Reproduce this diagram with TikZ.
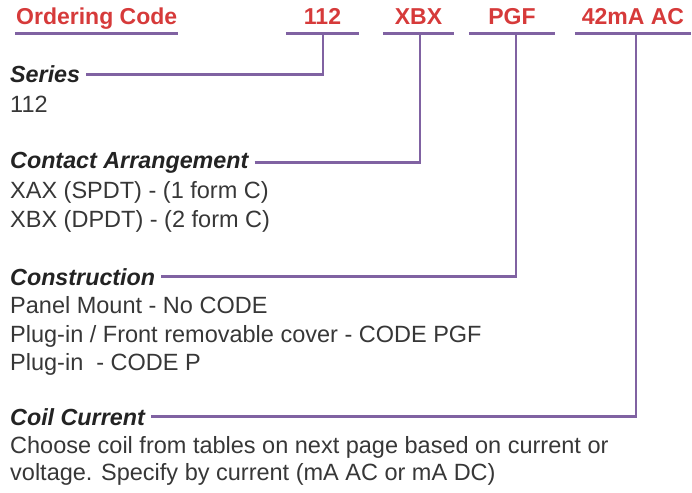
\documentclass[tikz,border=0pt]{standalone}
\usepackage{fontspec}
\setmainfont{Liberation Sans}
\usepackage{xcolor}
\usetikzlibrary{positioning}
\definecolor{codered}{RGB}{214,58,58}
\definecolor{linkpurple}{RGB}{128,98,162}
\definecolor{bodygray}{RGB}{55,55,55}
\definecolor{headgray}{RGB}{35,35,35}
\tikzset{
    % Text styles
    code/.style={font=\fontsize{23}{27}\selectfont\bfseries, text=codered,
                 inner sep=0pt, anchor=base},
    head/.style={font=\fontsize{23.3}{27}\selectfont\bfseries\itshape, text=headgray,
                 inner sep=0pt, anchor=base west},
    body/.style={font=\fontsize{23.5}{27}\selectfont, text=bodygray,
                 inner sep=0pt, anchor=base west},
    % Line styles
    uline/.style={draw=linkpurple, line width=2.8pt},
    link/.style={draw=linkpurple, line width=2.6pt, shorten <=6pt},
}

\begin{document}
\begin{tikzpicture}[x=1pt, y=-1pt]
    \useasboundingbox (0,0) rectangle (692,492);

    % Code header
    \node[code, anchor=base west, minimum width=163pt] (order) at (15,25) {Ordering Code};
    \node[code, minimum width=73pt] (c112) at (322.5,25) {112};
    \node[code, minimum width=71pt] (cxbx) at (418.5,25) {XBX};
    \node[code, minimum width=86pt] (cpgf) at (512,25) {PGF};
    \node[code, minimum width=116pt] (ccoil) at (633,25) {42mA AC};

    % Underlines
    \foreach \n in {order, c112, cxbx, cpgf, ccoil}
        \draw[uline] ([yshift=-8.5pt]\n.base west) -- ([yshift=-8.5pt]\n.base east);

    \coordinate (t112) at (323,33.5);
    \coordinate (txbx) at (420,33.5);
    \coordinate (tpgf) at (516,33.5);
    \coordinate (tcoil) at (636,33.5);

    % Series
    \node[head] (series) at (10,83) {Series};
    \node[body] (series1) at (10,112) {112};

    % Contact arrangement
    \node[head] (contact) at (10,168) {Contact Arrangement};
    \node[body] (contact1) at (10,198) {XAX (SPDT) - (1 form C)};
    \node[body] (contact2) at (10,227) {XBX (DPDT) - (2 form C)};

    % Construction
    \node[head] (constr) at (10,285) {Construction};
    \node[body] (constr1) at (10,313) {Panel Mount - No CODE};
    \node[body] (constr2) at (10,342) {Plug-in / Front removable cover - CODE PGF};
    \node[body] (constr3) at (10,370) {Plug-in\ \ - CODE P};

    % Coil current
    \node[head] (coil) at (10,425) {Coil Current};
    \node[body] (coil1) at (10,453) {Choose coil from tables on next page based on current or};
    \node[body] (coil2) at (10,480) {voltage. Specify by current (mA AC or mA DC)};

    % Connectors
    \draw[link] (series.east) -| (t112);
    \draw[link] (contact.east) -| (txbx);
    \draw[link] (constr.east) -| (tpgf);
    \draw[link] (coil.east) -| (tcoil);
\end{tikzpicture}
\end{document}
